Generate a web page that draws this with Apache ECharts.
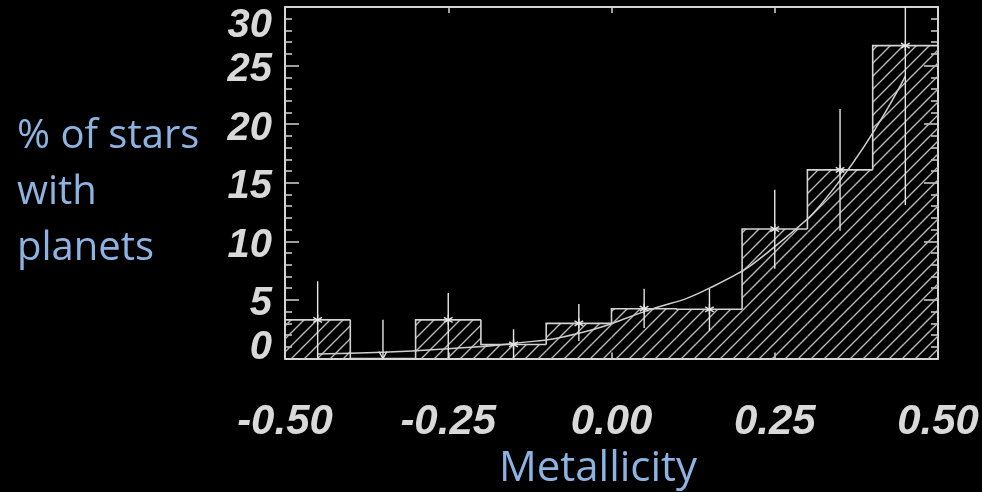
<!DOCTYPE html>
<html>
<head>
<meta charset="utf-8">
<script src="https://cdn.jsdelivr.net/npm/echarts@6/dist/echarts.min.js"></script>
<style>
  html, body { margin: 0; padding: 0; background: #000; }
  #chart { width: 982px; height: 492px; }
</style>
</head>
<body>
<div id="chart"></div>
<script>
// bins of width 0.1, centre values
const binCenters = [-0.45, -0.35, -0.25, -0.15, -0.05, 0.05, 0.15, 0.25, 0.35, 0.45]
const binWidth = 0.1
const percent = [3.3, 0, 3.3, 1.2, 3.0, 4.25, 4.2, 11.05, 16.1, 26.7]
const errLow = [0, 0, 0, 0, 1.5, 2.6, 2.35, 7.65, 10.9, 13.1]
const errHigh = [6.6, 3.3, 5.6, 2.5, 4.65, 5.95, 5.95, 14.4, 21.3, 40.3]
const upperLimit = [false, true, false, false, false, false, false, false, false, false]
// fitted curve read at the bin centres
const fitX = [-0.45, -0.35, -0.25, -0.15, -0.05, 0.05, 0.15, 0.25, 0.35, 0.45]
const fitY = [0.38, 0.53, 0.84, 1.28, 2.15, 4.0, 6.0, 9.55, 15.2, 24.1]
const xTicks = [-0.5, -0.25, 0, 0.25, 0.5]
const yTicks = [0, 5, 10, 15, 20, 25, 30]

const lineColor = '#d4d4d4'
const labelColor = '#d9d9d9'
const titleColor = '#8db3e2'

function hatchPattern() {
  const s = 13
  const c = document.createElement('canvas')
  c.width = s
  c.height = s
  const ctx = c.getContext('2d')
  ctx.strokeStyle = '#b8b8b8'
  ctx.lineWidth = 1.4
  ctx.beginPath()
  ctx.moveTo(-1, s + 1)
  ctx.lineTo(s + 1, -1)
  ctx.moveTo(-2, 2)
  ctx.lineTo(2, -2)
  ctx.moveTo(s - 2, s + 2)
  ctx.lineTo(s + 2, s - 2)
  ctx.stroke()
  return c
}

const histData = binCenters.map((c, i) => [c, percent[i], i > 0 ? percent[i - 1] : 0])
const errData = binCenters.map((c, i) => [c, errLow[i], errHigh[i], percent[i], upperLimit[i] ? 1 : 0])
const fitData = fitX.map((x, i) => [x, fitY[i]])

const chart = echarts.init(document.getElementById('chart'))
const pattern = { image: hatchPattern(), repeat: 'repeat' }

const tickFont = {
  fontFamily: '"Liberation Sans", Arial, sans-serif',
  fontWeight: 'bold',
  fontStyle: 'italic',
  color: labelColor
}

function frameAxis(pos, extra) {
  return Object.assign({
    type: 'value',
    position: pos,
    axisLine: { show: true, onZero: false, lineStyle: { color: lineColor, width: 2 } },
    splitLine: { show: false },
    axisLabel: { show: false }
  }, extra)
}

const xRange = { min: xTicks[0], max: xTicks[xTicks.length - 1], interval: 0.25 }
const yRange = { min: yTicks[0], max: yTicks[yTicks.length - 1], interval: 5 }
const xTick = { show: true, inside: true, length: 6, lineStyle: { color: lineColor, width: 1.5 } }
const yTick = { show: true, inside: true, length: 14, lineStyle: { color: lineColor, width: 1.5 } }
const yMinor = { show: true, splitNumber: 5, length: 7, lineStyle: { color: lineColor, width: 1.5 } }

chart.setOption({
  backgroundColor: '#000',
  animation: false,
  grid: { left: 285, right: 44, top: 7, bottom: 133.5 },
  xAxis: [
    frameAxis('bottom', Object.assign({
      axisTick: xTick,
      axisLabel: Object.assign({
        fontSize: 42,
        margin: 43,
        formatter: (v) => v.toFixed(2)
      }, tickFont)
    }, xRange)),
    frameAxis('top', Object.assign({ axisTick: xTick }, xRange))
  ],
  yAxis: [
    frameAxis('left', Object.assign({
      axisTick: yTick,
      minorTick: yMinor,
      axisLabel: {
        margin: 13,
        formatter: (v) => {
          if (v === 30) return '{top|' + v + '}'
          if (v === 0) return '{bot|' + v + '}'
          return '{mid|' + v + '}'
        },
        rich: {
          top: Object.assign({ fontSize: 40, padding: [37, 0, 0, 0] }, tickFont),
          mid: Object.assign({ fontSize: 40, padding: [9, 0, 0, 0] }, tickFont),
          bot: Object.assign({ fontSize: 40, padding: [0, 0, 21, 0] }, tickFont)
        }
      }
    }, yRange)),
    frameAxis('right', Object.assign({ axisTick: yTick, minorTick: yMinor }, yRange))
  ],
  graphic: [
    {
      type: 'text',
      left: 17,
      top: 109,
      style: {
        text: '% of stars\nwith\nplanets',
        fontFamily: '"Open Sans", sans-serif',
        fontSize: 40,
        lineHeight: 56,
        fill: titleColor
      }
    },
    {
      type: 'text',
      x: 598,
      y: 469,
      style: {
        text: 'Metallicity',
        fontFamily: '"Open Sans", sans-serif',
        fontSize: 42,
        align: 'center',
        verticalAlign: 'middle',
        fill: titleColor
      }
    }
  ],
  series: [
    {
      type: 'custom',
      name: 'histogram',
      data: histData,
      clip: true,
      renderItem: (params, api) => {
        const c = api.value(0)
        const v = api.value(1)
        const prev = api.value(2)
        const tl = api.coord([c - binWidth / 2, v])
        const br = api.coord([c + binWidth / 2, 0])
        const pv = api.coord([c - binWidth / 2, prev])
        return {
          type: 'group',
          children: [
            {
              type: 'rect',
              shape: { x: tl[0], y: tl[1], width: br[0] - tl[0], height: br[1] - tl[1] },
              style: { fill: pattern }
            },
            {
              type: 'polyline',
              shape: { points: [[tl[0], pv[1]], [tl[0], tl[1]], [br[0], tl[1]]] },
              style: { fill: null, stroke: lineColor, lineWidth: 1.6 }
            }
          ]
        }
      }
    },
    {
      type: 'line',
      name: 'fit',
      data: fitData,
      smooth: true,
      showSymbol: false,
      lineStyle: { color: '#cfcfcf', width: 1.5 },
      z: 3
    },
    {
      type: 'custom',
      name: 'errors',
      data: errData,
      clip: true,
      z: 4,
      renderItem: (params, api) => {
        const c = api.value(0)
        const lo = api.coord([c, api.value(1)])
        const hi = api.coord([c, api.value(2)])
        const pt = api.coord([c, api.value(3)])
        const limit = api.value(4)
        const st = { stroke: '#e6e6e6', lineWidth: 1.4, fill: null }
        const children = [
          { type: 'line', shape: { x1: lo[0], y1: lo[1], x2: hi[0], y2: hi[1] }, style: st }
        ]
        if (limit) {
          children.push({
            type: 'polyline',
            shape: { points: [[lo[0] - 4, lo[1] - 7], [lo[0], lo[1]], [lo[0] + 4, lo[1] - 7]] },
            style: st
          })
        } else {
          const r = 5
          const d = r * 0.866
          children.push(
            { type: 'line', shape: { x1: pt[0], y1: pt[1] - r, x2: pt[0], y2: pt[1] + r }, style: st },
            { type: 'line', shape: { x1: pt[0] - d, y1: pt[1] - r / 2, x2: pt[0] + d, y2: pt[1] + r / 2 }, style: st },
            { type: 'line', shape: { x1: pt[0] - d, y1: pt[1] + r / 2, x2: pt[0] + d, y2: pt[1] - r / 2 }, style: st }
          )
        }
        return { type: 'group', children: children }
      }
    }
  ]
})
</script>
</body>
</html>
